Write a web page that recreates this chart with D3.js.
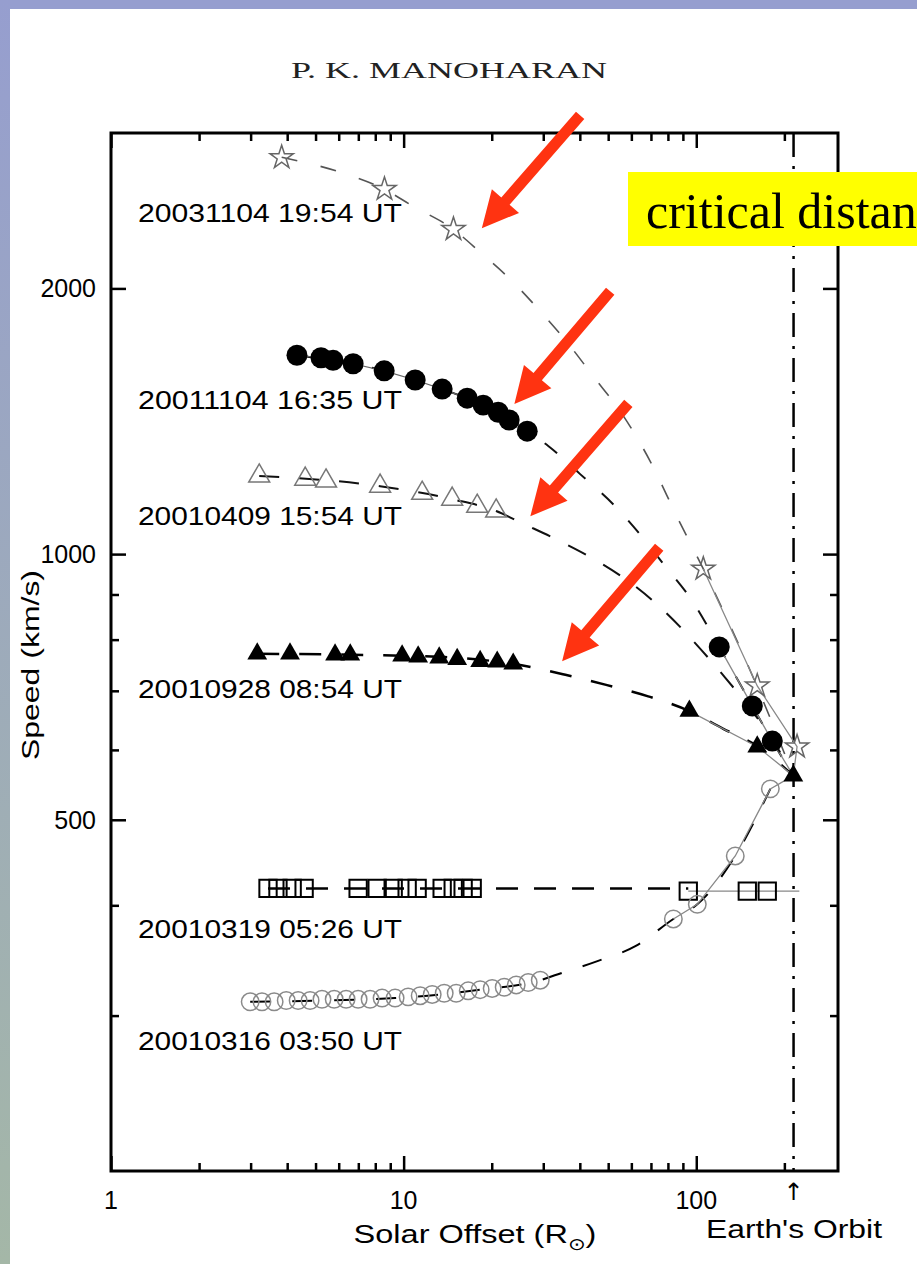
<!DOCTYPE html>
<html>
<head>
<meta charset="utf-8">
<script src="https://cdn.jsdelivr.net/npm/d3@7"></script>
<style>
  body { margin: 0; background: #fff; }
  svg { display: block; }
</style>
</head>
<body>
<script>
// values: [solar offset (Rsun), speed (km/s)]
var labels = ["20031104 19:54 UT", "20011104 16:35 UT", "20010409 15:54 UT",
              "20010928 08:54 UT", "20010319 05:26 UT", "20010316 03:50 UT"];

var starNear = [[3.83, 2814], [8.6, 2591], [14.8, 2334]];
var starIps = [[105.7, 962], [161.6, 709], [221, 605]];
var starFit = [[3.83, 2816], [5.93, 2715], [8.58, 2591], [10.78, 2478], [14.77, 2334], [18.26, 2198],
               [23.49, 2038], [29.3, 1884], [37.1, 1720], [44.4, 1591], [55.8, 1441], [69.6, 1274],
               [86.1, 1101], [105.7, 962], [161.6, 707], [214.6, 561]];

var dotNear = [[4.32, 1680], [5.22, 1669], [5.74, 1658], [6.72, 1643], [8.58, 1613], [10.95, 1575],
               [13.54, 1538], [16.49, 1502], [18.7, 1475], [21.04, 1448], [22.94, 1419], [26.44, 1378]];
var dotIps = [[119.8, 785], [155.4, 673], [181.9, 614]];
var dotFit = [[4.32, 1680], [8.58, 1613], [13.54, 1538], [18.7, 1475], [26.44, 1378], [31.2, 1326],
              [40.1, 1232], [52.0, 1139], [63.3, 1059], [78.3, 969], [96.9, 885], [119.8, 785],
              [155.4, 673], [181.9, 614], [214.6, 561]];

var triNear = [[3.21, 1226], [4.61, 1216], [5.43, 1210], [8.31, 1194], [11.57, 1172], [14.65, 1154],
               [17.84, 1133], [20.71, 1119]];
var triIps = [];
var triFit = [[3.21, 1226], [8.31, 1194], [14.65, 1154], [20.71, 1119], [25.4, 1084], [34.3, 1034],
              [45.9, 982], [60.4, 925], [78.3, 860], [97.7, 797], [122.7, 731], [153.0, 668],
              [186.2, 609], [214.6, 561]];

var ftriNear = [[3.16, 771], [4.09, 771], [5.83, 769], [6.57, 769], [9.88, 767], [11.21, 765],
                [13.23, 763], [15.24, 760], [18.26, 756], [20.88, 755], [23.68, 751]];
var ftriIps = [[94.7, 664], [161.6, 605], [214.6, 561]];
var ftriFit = [[3.16, 771], [9.88, 767], [15.24, 763], [23.68, 751], [35.7, 730], [49.2, 711],
               [68.5, 690], [94.7, 664], [123.7, 634], [161.6, 606], [214.6, 561]];

var boxNear = [[3.44, 418], [3.72, 418], [4.16, 418], [4.57, 418], [6.99, 418], [8.12, 418],
               [9.21, 418], [10.28, 418], [11.12, 418], [13.54, 418], [14.77, 418], [15.97, 418],
               [17.15, 418]];
var boxIps = [[93.9, 415], [149.4, 415], [174.8, 415]];
var boxFit = [[3.44, 418], [93.9, 418]];

var ringNear = [[2.99, 311], [3.28, 311], [3.61, 311], [3.97, 312], [4.36, 312], [4.79, 312],
                [5.26, 313], [5.79, 313], [6.36, 313], [6.99, 313], [7.68, 313], [8.44, 314],
                [9.35, 314], [10.36, 315], [11.39, 316], [12.52, 317], [13.76, 318], [15.12, 318],
                [16.62, 320], [18.26, 321], [20.07, 322], [22.06, 323], [24.25, 325], [26.65, 327],
                [29.3, 329]];
var ringIps = [[83.5, 386], [100.8, 401], [135.9, 455], [179.1, 542]];
var ringFit = [[2.99, 311], [9.35, 314], [18.26, 321], [29.3, 329], [33.5, 334], [46.2, 346],
               [62.4, 360], [83.5, 386], [100.8, 401], [135.9, 455], [179.1, 542]];

var ipsEnds = [[214.6, 561], [214.6, 561], [214.6, 561], [214.6, 561], [225, 415], [214.6, 561]];
var earthOrbit = 215;

var xMajor = [1, 10, 100];
var xMinor = [2, 3, 4, 5, 6, 7, 8, 9, 20, 30, 40, 50, 60, 70, 80, 90, 200];
var yMajor = [500, 1000, 2000];
var yMinor = [300, 400, 600, 700, 800, 900];

// red arrows (tail -> tip), in data units
var arrowTails = [[40.1, 3142], [50.8, 1985], [58.6, 1482], [74.7, 1018]];
var arrowTips = [[18.5, 2340], [23.9, 1479], [27.1, 1104], [34.8, 756]];

function main() {
    var width = 917;
    var height = 1264;
    var left = 111, right = 838, top = 133, bottom = 1171;

    var svg = d3.select('body')
                .append('svg')
                .attr('width', width)
                .attr('height', height);

    // slide frame
    var defs = svg.append('defs');
    var grad = defs.append('linearGradient')
                   .attr('id', 'side')
                   .attr('x1', 0).attr('y1', 0).attr('x2', 0).attr('y2', 1);
    grad.append('stop').attr('offset', '0%').attr('stop-color', '#969ecf');
    grad.append('stop').attr('offset', '100%').attr('stop-color', '#a4b7a7');
    defs.append('clipPath').attr('id', 'plotclip')
        .append('rect').attr('x', left).attr('y', top)
        .attr('width', right - left).attr('height', bottom - top);

    svg.append('rect').attr('width', width).attr('height', height).attr('fill', '#fff');
    svg.append('rect').attr('width', width).attr('height', 9).attr('fill', '#969ecf');
    svg.append('rect').attr('width', 10).attr('height', height).attr('fill', 'url(#side)');

    var x = d3.scaleLog().domain([1, 305]).range([left, right]);
    var y = d3.scaleLog().domain([200, 3000]).range([bottom, top]);

    // title
    svg.append('text')
       .attr('x', 291).attr('y', 78)
       .attr('textLength', 316).attr('lengthAdjust', 'spacingAndGlyphs')
       .style('font-family', '"Liberation Serif", "Times New Roman", serif')
       .style('font-size', '24px')
       .style('fill', '#222')
       .text('P. K. MANOHARAN');

    // inward ticks on all four sides
    var axes = svg.append('g');
    function ticks(gen, vals, size, tr) {
        axes.append('g')
            .attr('transform', tr)
            .call(gen.tickValues(vals).tickSize(size).tickFormat(''))
            .call(function(g) { g.select('.domain').remove(); })
            .selectAll('line').attr('stroke', '#000').attr('stroke-width', 2.5);
    }
    ticks(d3.axisBottom(x), xMajor, -15, 'translate(0,' + bottom + ')');
    ticks(d3.axisBottom(x), xMinor, -8, 'translate(0,' + bottom + ')');
    ticks(d3.axisTop(x), xMajor, -15, 'translate(0,' + top + ')');
    ticks(d3.axisTop(x), xMinor, -8, 'translate(0,' + top + ')');
    ticks(d3.axisLeft(y), yMajor, -15, 'translate(' + left + ',0)');
    ticks(d3.axisLeft(y), yMinor, -8, 'translate(' + left + ',0)');
    ticks(d3.axisRight(y), yMajor, -15, 'translate(' + right + ',0)');
    ticks(d3.axisRight(y), yMinor, -8, 'translate(' + right + ',0)');

    var sans = '"Liberation Sans", Arial, sans-serif';

    // tick labels
    svg.append('g').selectAll('text')
       .data(xMajor).enter().append('text')
       .attr('x', function(d) { return x(d); })
       .attr('y', 1209)
       .attr('text-anchor', 'middle')
       .style('font-family', sans).style('font-size', '25px')
       .text(function(d) { return d; });
    svg.append('g').selectAll('text')
       .data(yMajor).enter().append('text')
       .attr('x', 96)
       .attr('y', function(d) { return y(d) + 9; })
       .attr('text-anchor', 'end')
       .style('font-family', sans).style('font-size', '25px')
       .text(function(d) { return d; });

    // axis titles
    svg.append('text')
       .attr('transform', 'translate(39,665) rotate(-90)')
       .attr('text-anchor', 'middle')
       .attr('textLength', 190).attr('lengthAdjust', 'spacingAndGlyphs')
       .style('font-family', sans).style('font-size', '23px')
       .text('Speed (km/s)');

    var xt = svg.append('text')
       .attr('transform', 'translate(475,1243) scale(1.25,1)')
       .attr('text-anchor', 'middle')
       .style('font-family', sans).style('font-size', '26px');
    xt.append('tspan').text('Solar Offset (R');
    xt.append('tspan').attr('dy', 7).style('font-size', '17px').text('\u2299');
    xt.append('tspan').attr('dy', -7).text(')');

    svg.append('text')
       .attr('x', 706).attr('y', 1238)
       .attr('textLength', 176).attr('lengthAdjust', 'spacingAndGlyphs')
       .style('font-family', sans).style('font-size', '26px')
       .text("Earth's Orbit");
    svg.append('text')
       .attr('x', x(earthOrbit)).attr('y', 1200)
       .attr('text-anchor', 'middle')
       .style('font-family', '"DejaVu Sans", sans-serif').style('font-size', '24px')
       .text('\u2191');

    // Earth's orbit line
    svg.append('line')
       .attr('x1', x(earthOrbit)).attr('x2', x(earthOrbit))
       .attr('y1', top).attr('y2', bottom)
       .attr('stroke', '#000').attr('stroke-width', 2.5)
       .attr('stroke-dasharray', '24,9,3,9');

    var seriesList = [
        {near: starNear, ips: starIps, fit: starFit, shape: d3.symbolStar, size: 170,
         fill: 'none', stroke: '#666', sw: 1.5, fitColor: '#555', fitWidth: 1.6, dash: '16,24',
         nearLine: false, labelY: 222},
        {near: dotNear, ips: dotIps, fit: dotFit, shape: d3.symbolCircle, size: 346,
         fill: '#000', stroke: 'none', sw: 0, fitColor: '#111', fitWidth: 2, dash: '16,22',
         nearLine: true, labelY: 409},
        {near: triNear, ips: triIps, fit: triFit, shape: d3.symbolTriangle, size: 190,
         fill: 'none', stroke: '#777', sw: 1.5, fitColor: '#111', fitWidth: 2, dash: '20,20',
         nearLine: false, labelY: 525},
        {near: ftriNear, ips: ftriIps, fit: ftriFit, shape: d3.symbolTriangle, size: 170,
         fill: '#000', stroke: 'none', sw: 0, fitColor: '#000', fitWidth: 2.5, dash: '22,20',
         nearLine: false, labelY: 698},
        {near: boxNear, ips: boxIps, fit: boxFit, shape: d3.symbolSquare, size: 300,
         fill: 'none', stroke: '#000', sw: 2, fitColor: '#000', fitWidth: 2.5, dash: '22,16',
         nearLine: false, labelY: 938},
        {near: ringNear, ips: ringIps, fit: ringFit, shape: d3.symbolCircle, size: 240,
         fill: 'none', stroke: '#8a8a8a', sw: 1.5, fitColor: '#000', fitWidth: 2, dash: '20,22',
         nearLine: false, labelY: 1050}
    ];

    var line = d3.line()
                 .x(function(d) { return x(d[0]); })
                 .y(function(d) { return y(d[1]); })
                 .curve(d3.curveMonotoneX);
    var straight = d3.line()
                     .x(function(d) { return x(d[0]); })
                     .y(function(d) { return y(d[1]); });

    var plot = svg.append('g').attr('clip-path', 'url(#plotclip)');

    seriesList.forEach(function(s, i) {
        plot.append('path')
            .attr('d', line(s.fit))
            .attr('fill', 'none')
            .attr('stroke', s.fitColor)
            .attr('stroke-width', s.fitWidth)
            .attr('stroke-dasharray', s.dash);
        if (s.nearLine) {
            plot.append('path')
                .attr('d', straight(s.near))
                .attr('fill', 'none').attr('stroke', '#666').attr('stroke-width', 1.2);
        }
        if (s.ips.length) {
            plot.append('path')
                .attr('d', straight(s.ips.concat([ipsEnds[i]])))
                .attr('fill', 'none').attr('stroke', '#888').attr('stroke-width', 1.3);
        }
    });

    seriesList.forEach(function(s, i) {
        var sym = d3.symbol().type(s.shape).size(s.size);
        plot.append('g').selectAll('path')
            .data(s.near.concat(s.ips))
            .enter().append('path')
            .attr('transform', function(d) { return 'translate(' + x(d[0]) + ',' + y(d[1]) + ')'; })
            .attr('d', sym)
            .attr('fill', s.fill)
            .attr('stroke', s.stroke)
            .attr('stroke-width', s.sw);

        svg.append('text')
           .attr('x', 138).attr('y', s.labelY)
           .attr('textLength', 264).attr('lengthAdjust', 'spacingAndGlyphs')
           .style('font-family', sans).style('font-size', '26px')
           .text(labels[i]);
    });

    // plot frame
    svg.append('rect')
       .attr('x', left).attr('y', top)
       .attr('width', right - left).attr('height', bottom - top)
       .attr('fill', 'none').attr('stroke', '#000').attr('stroke-width', 3);

    // annotation: red arrows
    arrowTails.forEach(function(t, i) {
        var p = arrowTips[i];
        var tx = x(t[0]), ty = y(t[1]), px = x(p[0]), py = y(p[1]);
        var len = Math.hypot(px - tx, py - ty);
        var ux = (px - tx) / len, uy = (py - ty) / len;
        var nx = -uy, ny = ux;
        var bx = px - ux * 36, by = py - uy * 36;
        var w = 5.5, hw = 18;
        var pts = [[tx + nx * w, ty + ny * w], [bx + nx * w, by + ny * w], [bx + nx * hw, by + ny * hw],
                   [px, py], [bx - nx * hw, by - ny * hw], [bx - nx * w, by - ny * w], [tx - nx * w, ty - ny * w]];
        svg.append('polygon')
           .attr('points', pts.map(function(q) { return q.join(','); }).join(' '))
           .attr('fill', '#ff3311');
    });

    // yellow call-out, running off the slide's right edge as in the original
    svg.append('rect')
       .attr('x', 628).attr('y', 172).attr('width', 320).attr('height', 74)
       .attr('fill', '#ffff00');
    svg.append('text')
       .attr('x', 646).attr('y', 228)
       .style('font-family', '"Liberation Serif", "Times New Roman", serif')
       .style('font-size', '50px')
       .text('critical distance');
}

main();
</script>
</body>
</html>
